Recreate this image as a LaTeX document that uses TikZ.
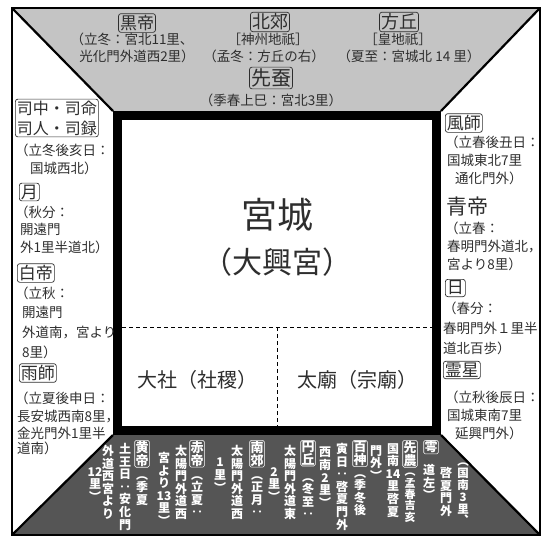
\documentclass[tikz,border=0pt]{standalone}
\usepackage{fontspec}
\setmainfont{Noto Sans CJK JP}
\definecolor{topgray}{HTML}{C4C4C4}
\definecolor{botgray}{HTML}{555555}
\definecolor{ink}{HTML}{2E2E2E}
\begin{document}
\begin{tikzpicture}[x=1pt,y=-1pt,
  sidetxt/.style={anchor=west,inner sep=0pt,text=ink,font=\fontsize{13.5}{15}\selectfont},
  toptxt/.style={inner sep=0pt,text=ink,font=\fontsize{13.5}{15}\selectfont},
  tbox/.style={draw=ink,line width=0.7pt,rounded corners=2.5pt,inner sep=1.5pt,text=ink,font=\fontsize{17}{19}\selectfont},
  vtxt/.style={anchor=north,inner sep=0pt,text=white,align=center,font=\bfseries\fontsize{12}{12.6}\selectfont},
  vtitle/.style={anchor=north,inner sep=0.8pt,draw=white,line width=0.6pt,rounded corners=1.5pt,text=white,align=center,font=\bfseries\fontsize{13}{13}\selectfont},
  frameline/.style={line width=2.2pt,black},
  divline/.style={line width=0.9pt,dash pattern=on 4pt off 3pt}]
\useasboundingbox (0,0) rectangle (544,542);
% regions
\fill[topgray] (12,8) -- (540,8) -- (441,111) -- (113,111) -- cycle;
\fill[botgray] (113,435) -- (441,435) -- (540,535) -- (12,535) -- cycle;
\draw[frameline] (12,8) rectangle (540,535);
\draw[frameline] (12,8) -- (113,111);
\draw[frameline] (540,8) -- (441,111);
\draw[frameline] (12,535) -- (113,435);
\draw[frameline] (540,535) -- (441,435);
\draw[line width=9pt,fill=white] (117.5,115.5) rectangle (436.5,430.5);
\draw[divline] (122,327) -- (432,327);
\draw[divline] (277,327) -- (277,426);
% inner palace
\node[inner sep=0pt,text=ink,font=\fontsize{36}{40}\selectfont] (gong) at (277,215) {宮城};
\node[inner sep=0pt,text=ink,font=\fontsize{30}{34}\selectfont] (daxing) at (277,262) {（大興宮）};
\node[inner sep=0pt,text=ink,font=\fontsize{20}{22}\selectfont] (sheji) at (197,380) {大社（社稷）};
\node[inner sep=0pt,text=ink,font=\fontsize{20}{22}\selectfont] (taimiao) at (357,380) {太廟（宗廟）};
% top
\node[tbox] (heidi) at (137,23) {黒帝};
\node[toptxt] (heidi1) at (132,39) {（立冬：宮北11里、};
\node[toptxt] (heidi2) at (137,56) {光化門外道西2里）};
\node[tbox,font=\fontsize{18}{20}\selectfont] (beijiao) at (270,22) {北郊};
\node[toptxt] (beijiao1) at (268,39) {［神州地祇］};
\node[toptxt] (beijiao2) at (264,56) {（孟冬：方丘の右）};
\node[tbox,font=\fontsize{18}{20}\selectfont] (fangqiu) at (399,22) {方丘};
\node[toptxt] (fangqiu1) at (398,39) {［皇地祇］};
\node[toptxt] (fangqiu2) at (409,56) {（夏至：宮城北 14 里）};
\node[tbox,font=\fontsize{20}{22}\selectfont] (xiancan) at (271,78) {先蚕};
\node[toptxt] (xiancan1) at (271,100) {（季春上巳：宮北3里）};
% left
\node[tbox,anchor=west,align=left,font=\fontsize{16}{20}\selectfont] (sizhong) at (15,118) {司中・司命\\司人・司録};
\node[sidetxt] (l1) at (15,150) {（立冬後亥日：};
\node[sidetxt] (l2) at (30,168) {国城西北）};
\node[tbox,anchor=west] (yue) at (19,192) {月};
\node[sidetxt] (l3) at (15,212) {（秋分：};
\node[sidetxt] (l4) at (20,229) {開遠門};
\node[sidetxt] (l5) at (20,247) {外1里半道北）};
\node[tbox,anchor=west] (baidi) at (17,273) {白帝};
\node[sidetxt] (l6) at (15,293) {（立秋：};
\node[sidetxt] (l7) at (22,312) {開遠門};
\node[sidetxt] (l8) at (22,333) {外道南，宮より};
\node[sidetxt] (l9) at (22,352) {8里）};
\node[tbox,anchor=west] (yushi) at (19,373) {雨師};
\node[sidetxt] (l10) at (15,398) {（立夏後申日：};
\node[sidetxt] (l11) at (17,417) {長安城西南8里，};
\node[sidetxt] (l12) at (17,433) {金光門外1里半};
\node[sidetxt] (l13) at (17,448) {道南）};
% right
\node[tbox,anchor=west] (fengshi) at (445,123) {風師};
\node[sidetxt] (r1) at (445,142) {（立春後丑日：};
\node[sidetxt] (r2) at (447,160) {国城東北7里};
\node[sidetxt] (r3) at (455,178) {通化門外）};
\node[sidetxt,font=\fontsize{21}{23}\selectfont] (qingdi) at (446,207) {青帝};
\node[sidetxt] (r4) at (445,228) {（立春：};
\node[sidetxt] (r5) at (447,247) {春明門外道北，};
\node[sidetxt] (r6) at (447,264) {宮より8里）};
\node[tbox,anchor=west] (ri) at (445,288) {日};
\node[sidetxt] (r7) at (443,308) {（春分：};
\node[sidetxt] (r8) at (443,328) {春明門外１里半};
\node[sidetxt] (r9) at (443,348) {道北百歩）};
\node[tbox,anchor=west] (lingxing) at (443,370) {霊星};
\node[sidetxt] (r10) at (445,397) {（立秋後辰日：};
\node[sidetxt] (r11) at (447,415) {国城東南7里};
\node[sidetxt] (r12) at (455,433) {延興門外）};
% bottom (vertical columns)
\node[vtitle] (huangdi) at (142,440) {黄\\帝};
\node[vtxt] (b1) at (142,476) {︵\\季\\夏};
\node[vtxt] (b2) at (125,443) {土\\王\\日\\‥\\安\\化\\門};
\node[vtxt] (b3) at (108,445) {外\\道\\西\\宮\\よ\\り};
\node[vtxt] (b4) at (95,467) {12\\里\\︶};
\node[vtitle] (chidi) at (197,440) {赤\\帝};
\node[vtxt] (b5) at (197,476) {︵\\立\\夏\\‥};
\node[vtxt] (b6) at (181,445) {太\\陽\\門\\外\\道\\西};
\node[vtxt] (b7) at (164,452) {宮\\よ\\り\\13\\里\\︶};
\node[vtitle] (nanjiao) at (257,440) {南\\郊};
\node[vtxt] (b8) at (257,476) {︵\\正\\月\\‥};
\node[vtxt] (b9) at (237,445) {太\\陽\\門\\外\\道\\西};
\node[vtxt] (b10) at (220,458) {1\\里\\︶};
\node[vtitle] (yuanqiu) at (308,440) {円\\丘};
\node[vtxt] (b11) at (308,478) {︵\\冬\\至\\‥};
\node[vtxt] (b12) at (290,445) {太\\陽\\門\\外\\道\\東};
\node[vtxt] (b13) at (274,467) {2\\里\\︶};
\node[vtitle] (baishen) at (360,440) {百\\神};
\node[vtxt] (b14) at (360,474) {︵\\季\\冬\\後};
\node[vtxt] (b15) at (342,443) {寅\\日\\‥\\啓\\夏\\門\\外};
\node[vtxt] (b16) at (325,447) {西\\南\\2\\里\\︶};
\node[vtitle] (xiannong) at (410,440) {先\\農};
\node[vtxt,font=\bfseries\fontsize{11}{11.4}\selectfont] (b17) at (410,473) {︵\\孟\\春\\吉\\亥};
\node[vtxt] (b18) at (393,443) {国\\南\\14\\里\\啓\\夏};
\node[vtxt] (b19) at (376,445) {門\\外\\︶};
\node[vtitle] (yu) at (431,440) {雩};
\node[vtxt] (b20) at (429,464) {道\\左\\︶};
\node[vtxt] (b21) at (446,467) {啓\\夏\\門\\外};
\node[vtxt,font=\bfseries\fontsize{11.5}{11.8}\selectfont] (b22) at (463,463) {︵\\国\\南\\3\\里\\︑};
\end{tikzpicture}
\end{document}
